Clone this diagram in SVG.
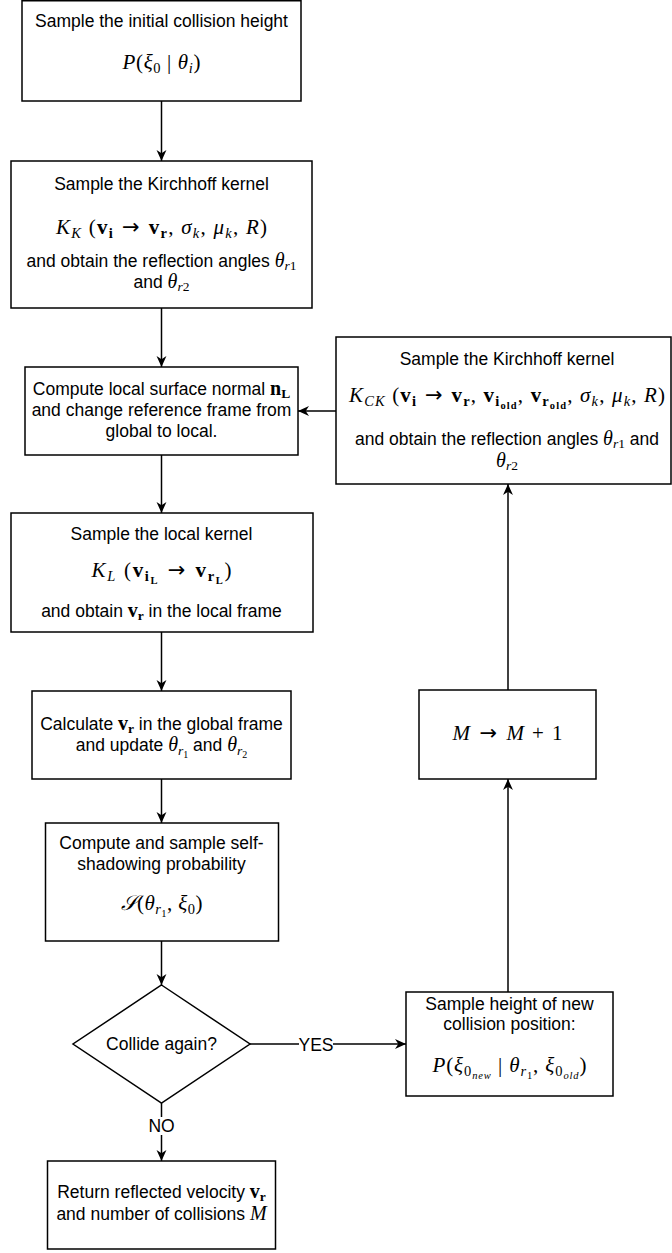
<svg xmlns="http://www.w3.org/2000/svg" width="672" height="1253" viewBox="0 0 672 1253">
<defs>
<style>
.box{fill:#fff;stroke:#000;stroke-width:1.5}
.edge{fill:none;stroke:#000;stroke-width:1.5}
.t{font-family:"Liberation Sans",Arial,sans-serif;font-size:17.5px;fill:#000;text-anchor:middle}
.m{font-family:"Liberation Serif","Times New Roman",serif;font-size:21px;fill:#000;text-anchor:middle}
.mi{font-family:"Liberation Serif","Times New Roman",serif;font-size:20px;font-style:italic}
.mb{font-family:"Liberation Serif","Times New Roman",serif;font-size:20px;font-weight:bold}
.ms{font-family:"Liberation Serif","Times New Roman",serif;font-size:13.5px}
.mss{font-family:"Liberation Serif","Times New Roman",serif;font-size:10px}
.ar{font-family:"DejaVu Sans",sans-serif;font-weight:normal;font-style:normal}
.i{font-style:italic}
.b{font-weight:bold}
.s{font-size:14.5px}
.ss{font-size:10.5px}
.lbl{fill:#fff;stroke:none}
</style>
<marker id="a" viewBox="0 0 10 10" refX="10" refY="5" markerWidth="11" markerHeight="11" markerUnits="userSpaceOnUse" orient="auto">
<path d="M0,0.5 L10,5 L0,9.5 L3,5 Z" fill="#000"/>
</marker>
</defs>
<rect width="672" height="1253" fill="#fff"/>

<g id="connectors">
<path class="edge" d="M161.5,101 V161" marker-end="url(#a)"/>
<path class="edge" d="M161.5,308 V367" marker-end="url(#a)"/>
<path class="edge" d="M161.5,455 V513" marker-end="url(#a)"/>
<path class="edge" d="M161.5,632 V691" marker-end="url(#a)"/>
<path class="edge" d="M161.5,779 V823" marker-end="url(#a)"/>
<path class="edge" d="M161.5,941 V985" marker-end="url(#a)"/>
<path class="edge" d="M161.5,1103 V1161" marker-end="url(#a)"/>
<path class="edge" d="M250,1044 H406" marker-end="url(#a)"/>
<path class="edge" d="M508,992 V779" marker-end="url(#a)"/>
<path class="edge" d="M508,690 V484" marker-end="url(#a)"/>
<path class="edge" d="M336,411 H298" marker-end="url(#a)"/>
<g id="label-no">
<rect class="lbl" x="148" y="1117" width="27" height="18"/>
<text class="t" x="161.5" y="1132">NO</text>
</g>
<g id="label-yes">
<rect class="lbl" x="299" y="1036" width="34" height="18"/>
<text class="t" x="316" y="1051">YES</text>
</g>
</g>

<g id="n1">
<rect class="box" x="22" y="0.75" width="279" height="100.25"/>
<text class="t" x="161.5" y="27">Sample the initial collision height</text>
<text class="m" x="161.5" y="69" textLength="78" lengthAdjust="spacing"><tspan class="i">P</tspan>(<tspan class="i">ξ</tspan><tspan class="s" dy="4">0</tspan><tspan dy="-4"> | </tspan><tspan class="i">θ</tspan><tspan class="s i" dy="4">i</tspan><tspan dy="-4">)</tspan></text>
</g>

<g id="n2">
<rect class="box" x="11" y="161" width="301" height="147"/>
<text class="t" x="161.5" y="190">Sample the Kirchhoff kernel</text>
<text class="m" x="161.5" y="234" textLength="211" lengthAdjust="spacing"><tspan class="i">K</tspan><tspan class="s i" dy="4">K</tspan><tspan dy="-4"> (</tspan><tspan class="b">v</tspan><tspan class="s b" dy="4">i</tspan><tspan dy="-4" class="ar"> → </tspan><tspan class="b">v</tspan><tspan class="s b" dy="4">r</tspan><tspan dy="-4">, </tspan><tspan class="i">σ</tspan><tspan class="s i" dy="4">k</tspan><tspan dy="-4">, </tspan><tspan class="i">μ</tspan><tspan class="s i" dy="4">k</tspan><tspan dy="-4">, </tspan><tspan class="i">R</tspan>)</text>
<text class="t" x="161.5" y="267">and obtain the reflection angles <tspan class="mi">θ</tspan><tspan class="ms" dy="2.5"><tspan class="i">r</tspan>1</tspan></text>
<text class="t" x="161.5" y="288">and <tspan class="mi">θ</tspan><tspan class="ms" dy="2.5"><tspan class="i">r</tspan>2</tspan></text>
</g>

<g id="n3">
<rect class="box" x="25" y="367" width="273" height="88"/>
<text class="t" x="161.5" y="395">Compute local surface normal <tspan class="mb">n</tspan><tspan class="ms b" dy="3">L</tspan></text>
<text class="t" x="161.5" y="416">and change reference frame from</text>
<text class="t" x="161.5" y="437">global to local.</text>
</g>

<g id="n4">
<rect class="box" x="11" y="513" width="302" height="119"/>
<text class="t" x="161.5" y="540">Sample the local kernel</text>
<text class="m" x="161.5" y="577" textLength="140" lengthAdjust="spacing"><tspan class="i">K</tspan><tspan class="s i" dy="4">L</tspan><tspan dy="-4"> (</tspan><tspan class="b">v</tspan><tspan class="s b" dy="4">i</tspan><tspan class="ss b" dy="3">L</tspan><tspan dy="-7" class="ar"> → </tspan><tspan class="b">v</tspan><tspan class="s b" dy="4">r</tspan><tspan class="ss b" dy="3">L</tspan><tspan dy="-7">)</tspan></text>
<text class="t" x="161.5" y="617">and obtain <tspan class="mb">v</tspan><tspan class="ms b" dy="3">r</tspan><tspan dy="-3"> in the local frame</tspan></text>
</g>

<g id="n5">
<rect class="box" x="32" y="691" width="259" height="88"/>
<text class="t" x="161.5" y="730">Calculate <tspan class="mb">v</tspan><tspan class="ms b" dy="3">r</tspan><tspan dy="-3"> in the global frame</tspan></text>
<text class="t" x="161.5" y="751">and update <tspan class="mi">θ</tspan><tspan class="ms i" dy="4">r</tspan><tspan class="mss" dy="3">1</tspan><tspan dy="-7"> and </tspan><tspan class="mi">θ</tspan><tspan class="ms i" dy="4">r</tspan><tspan class="mss" dy="3">2</tspan></text>
</g>

<g id="n6">
<rect class="box" x="45.5" y="823" width="233" height="118"/>
<text class="t" x="161.5" y="849">Compute and sample self-</text>
<text class="t" x="161.5" y="870">shadowing probability</text>
<text class="m" x="161.5" y="910" textLength="82" lengthAdjust="spacing"><tspan class="i">𝒮</tspan>(<tspan class="i">θ</tspan><tspan class="s i" dy="4">r</tspan><tspan class="ss" dy="3">1</tspan><tspan dy="-7">, </tspan><tspan class="i">ξ</tspan><tspan class="s" dy="4">0</tspan><tspan dy="-4">)</tspan></text>
</g>

<g id="n7">
<polygon class="box" points="161.5,985 250,1044 161.5,1103 73,1044"/>
<text class="t" x="161.5" y="1050">Collide again?</text>
</g>

<g id="n8">
<rect class="box" x="47.5" y="1161" width="228" height="88"/>
<text class="t" x="161.5" y="1198">Return reflected velocity <tspan class="mb">v</tspan><tspan class="ms b" dy="2.5">r</tspan></text>
<text class="t" x="161.5" y="1220">and number of collisions <tspan class="mi">M</tspan></text>
</g>

<g id="n9">
<rect class="box" x="406" y="992" width="207" height="104"/>
<text class="t" x="509.5" y="1010">Sample height of new</text>
<text class="t" x="509.5" y="1030">collision position:</text>
<text class="m" x="509.5" y="1072" textLength="154" lengthAdjust="spacing"><tspan class="i">P</tspan>(<tspan class="i">ξ</tspan><tspan class="s" dy="4">0</tspan><tspan class="ss i" dy="3">new</tspan><tspan dy="-7"> | </tspan><tspan class="i">θ</tspan><tspan class="s i" dy="4">r</tspan><tspan class="ss" dy="3">1</tspan><tspan dy="-7">, </tspan><tspan class="i">ξ</tspan><tspan class="s" dy="4">0</tspan><tspan class="ss i" dy="3">old</tspan><tspan dy="-7">)</tspan></text>
</g>

<g id="n10">
<rect class="box" x="419" y="690" width="177" height="89"/>
<text class="m" x="507.5" y="740" textLength="110" lengthAdjust="spacing"><tspan class="i">M</tspan><tspan class="ar"> → </tspan><tspan class="i">M</tspan> + 1</text>
</g>

<g id="n11">
<rect class="box" x="336" y="337" width="335" height="147"/>
<text class="t" x="507" y="365">Sample the Kirchhoff kernel</text>
<text class="m" x="507" y="402" textLength="316" lengthAdjust="spacing"><tspan class="i">K</tspan><tspan class="s i" dy="4">CK</tspan><tspan dy="-4"> (</tspan><tspan class="b">v</tspan><tspan class="s b" dy="4">i</tspan><tspan dy="-4" class="ar"> → </tspan><tspan class="b">v</tspan><tspan class="s b" dy="4">r</tspan><tspan dy="-4">, </tspan><tspan class="b">v</tspan><tspan class="s b" dy="4">i</tspan><tspan class="ss b" dy="3">old</tspan><tspan dy="-7">, </tspan><tspan class="b">v</tspan><tspan class="s b" dy="4">r</tspan><tspan class="ss b" dy="3">old</tspan><tspan dy="-7">, </tspan><tspan class="i">σ</tspan><tspan class="s i" dy="4">k</tspan><tspan dy="-4">, </tspan><tspan class="i">μ</tspan><tspan class="s i" dy="4">k</tspan><tspan dy="-4">, </tspan><tspan class="i">R</tspan>)</text>
<text class="t" x="507" y="445">and obtain the reflection angles <tspan class="mi">θ</tspan><tspan class="ms" dy="3"><tspan class="i">r</tspan>1</tspan><tspan dy="-3"> and</tspan></text>
<text class="t" x="507" y="467"><tspan class="mi">θ</tspan><tspan class="ms" dy="3"><tspan class="i">r</tspan>2</tspan></text>
</g>
</svg>
